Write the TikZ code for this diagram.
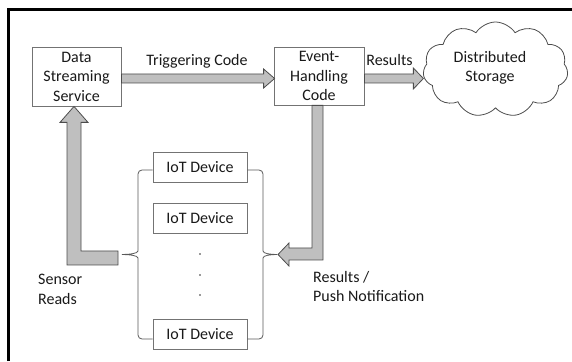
\documentclass[tikz,border=0pt]{standalone}
\usepackage{fontspec}
\setmainfont{Carlito}
\usetikzlibrary{shapes.symbols,calc}
\begin{document}
\begin{tikzpicture}[x=1pt,y=1pt,
  every node/.style={font=\fontsize{16}{19.5}\selectfont, text=black!90},
  procbox/.style={draw=black!55, line width=0.8pt, fill=white, align=center, inner sep=0pt},
  devbox/.style={draw=black!55, line width=0.8pt, fill=white, minimum width=94pt, minimum height=30pt, inner sep=0pt},
  blk/.style={draw=black!70, fill=black!25, line width=0.8pt, line join=miter},
  brace/.style={draw=black!65, line width=0.8pt},
  lbl/.style={inner sep=0pt, align=left},
  dotn/.style={circle, fill=black!80, inner sep=0pt, minimum size=1.8pt}]
\useasboundingbox (0,0) rectangle (572,361);
% outer frame (top and left edges)
\draw[line width=2.2pt] (8.5,0) -- (8.5,351.5) -- (572,351.5);

% processing boxes
\node[procbox, minimum width=89pt, minimum height=59pt] (dss) at (76.5,284.5) {Data\\Streaming\\Service};
\node[procbox, minimum width=90pt, minimum height=58pt] (ehc) at (319,285) {Event-\\Handling\\Code};

% storage cloud
\node[cloud, cloud puffs=11, cloud puff arc=115, aspect=1.5, draw=black!70, line width=0.8pt,
      minimum width=145pt, minimum height=95pt, inner sep=0pt] (store) at (495.5,291.5) {};
\node[align=center, inner sep=0pt] (storetxt) at ([xshift=-5.5pt,yshift=1.5pt]store.center) {Distributed\\Storage};

% devices
\node[devbox] (iot1) at (200,194) {IoT Device};
\node[devbox] (iot2) at (200,143) {IoT Device};
\node[devbox] (iot3) at (200,27) {IoT Device};
\node[dotn] (d1) at (200,107) {};
\node[dotn] (d2) at (200,86) {};
\node[dotn] (d3) at (200,66) {};

% brace tips
\coordinate (lt) at (122,106.5);
\coordinate (rt) at (277,106.5);

% braces grouping the devices
\draw[brace] (iot1.west |- 0,191) -- (142,191) arc[start angle=90, end angle=180, radius=4]
  -- (138,110) .. controls (138,107.5) and (129,106.5) .. (lt)
  .. controls (129,106.5) and (138,105.5) .. (138,103) -- (138,26)
  arc[start angle=180, end angle=270, radius=4] -- (iot3.west |- 0,22);
\draw[brace] (iot1.east |- 0,191) -- (259,191) arc[start angle=90, end angle=0, radius=4]
  -- (263,110) .. controls (263,107.5) and (270,106.5) .. (rt)
  .. controls (270,106.5) and (263,105.5) .. (263,103) -- (263,26)
  arc[start angle=0, end angle=-90, radius=4] -- (iot3.east |- 0,22);

% block arrows
\draw[blk] let \p1=(dss.east), \p2=(ehc.west) in
  (\x1,287pt) -- (\x2-10pt,287pt) -- (\x2-10pt,292pt) -- (\x2+1pt,282.5pt)
  -- (\x2-10pt,273pt) -- (\x2-10pt,278pt) -- (\x1,278pt) -- cycle;
\draw[blk] let \p1=(ehc.east), \p2=(store.west) in
  (\x1,287pt) -- (\x2-10pt,287pt) -- (\x2-10pt,293pt) -- (\x2,282.5pt)
  -- (\x2-10pt,272pt) -- (\x2-10pt,278pt) -- (\x1,278pt) -- cycle;
\draw[blk] let \p1=(ehc.south), \p2=(rt) in
  (\x1-7pt,\y1) -- (\x1+4pt,\y1) -- (\x1+4pt,\y2-5.5pt) -- (\x2+12pt,\y2-5.5pt)
  -- (\x2+12pt,\y2-11.5pt) -- (\x2+1pt,\y2) -- (\x2+12pt,\y2+11.5pt)
  -- (\x2+12pt,\y2+6.5pt) -- (\x1-7pt,\y2+6.5pt) -- cycle;
\draw[blk] let \p1=(lt), \p2=(dss.south) in
  (\x1-4pt,\y1+3.5pt) -- (\x1-4pt,\y1-10.5pt) -- (\x2-9.5pt,\y1-10.5pt)
  -- (\x2-9.5pt,\y2-16pt) -- (\x2-16.5pt,\y2-16pt) -- (\x2-2.5pt,\y2)
  -- (\x2+11.5pt,\y2-16pt) -- (\x2+4.5pt,\y2-16pt) -- (\x2+4.5pt,\y1+3.5pt) -- cycle;

% labels
\node[lbl, anchor=base] (trig) at (197,295) {Triggering Code};
\node[lbl, anchor=base] (res) at (389.5,295) {Results};
\node[lbl, anchor=west] (sens) at (38,71.5) {Sensor\\Reads};
\node[lbl, anchor=west] (push) at (313,74.5) {Results /\\Push Notification};
\end{tikzpicture}
\end{document}
